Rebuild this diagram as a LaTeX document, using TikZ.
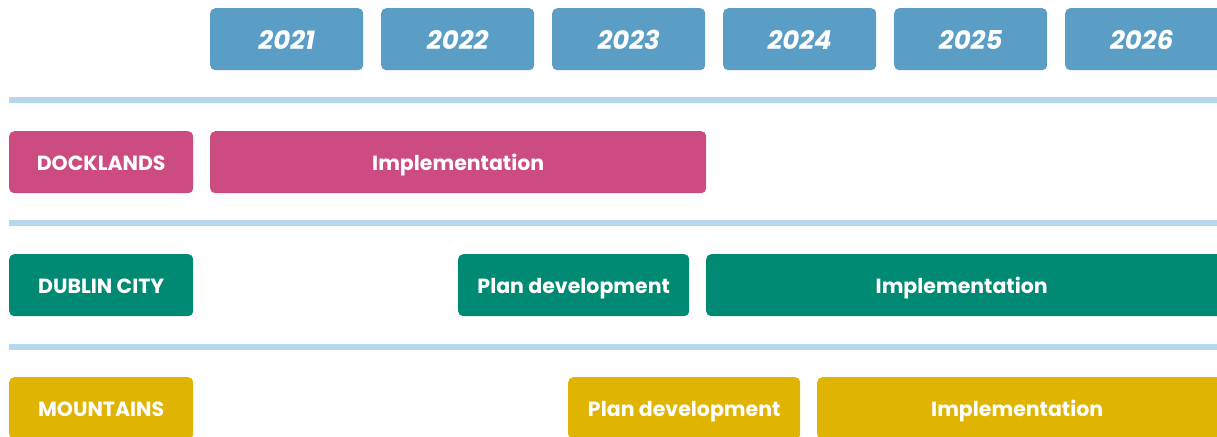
\documentclass[tikz,border=0pt]{standalone}
\usepackage{fontspec}
\setmainfont{Poppins}
\definecolor{yearblue}{HTML}{5A9DC5}
\definecolor{dockpink}{HTML}{CC4B80}
\definecolor{cityteal}{HTML}{018A73}
\definecolor{mtnyellow}{HTML}{E0B402}
\definecolor{sepblue}{HTML}{B6D8EF}
\begin{document}
\begin{tikzpicture}[x=1pt,y=-1pt,
  barbox/.style={rounded corners=5pt, inner sep=0pt, anchor=north west, text=white,
    font=\bfseries\fontsize{20.5}{24}\selectfont, minimum height=62pt,
    text height=17pt, text depth=0pt},
  yearbox/.style={barbox, fill=yearblue, minimum width=153pt,
    font=\bfseries\itshape\fontsize{26}{29}\selectfont, text height=20pt},
  sepline/.style={line width=6pt, draw=sepblue}]
\useasboundingbox (0,0) rectangle (1217,436);
\clip (0,0) rectangle (1217,436);
% years
\node[yearbox] (y2021) at (210,8) {2021};
\node[yearbox] (y2022) at (381,8) {2022};
\node[yearbox] (y2023) at (552,8) {2023};
\node[yearbox] (y2024) at (723,8) {2024};
\node[yearbox] (y2025) at (894,8) {2025};
\node[yearbox, minimum width=160pt] (y2026) at (1065,8) {\hspace*{-7pt}2026};
% separators
\coordinate (s1a) at (9,100);  \coordinate (s1b) at (1222,100);
\coordinate (s2a) at (9,223);  \coordinate (s2b) at (1222,223);
\coordinate (s3a) at (9,347);  \coordinate (s3b) at (1222,347);
\draw[sepline] (s1a) -- (s1b);
\draw[sepline] (s2a) -- (s2b);
\draw[sepline] (s3a) -- (s3b);
% docklands
\node[barbox, fill=dockpink, minimum width=184pt] (dock) at (9,131) {DOCKLANDS};
\node[barbox, fill=dockpink, minimum width=496pt] (dockimp) at (210,131) {Implementation};
% dublin city
\node[barbox, fill=cityteal, minimum width=184pt] (city) at (9,254) {DUBLIN CITY};
\node[barbox, fill=cityteal, minimum width=231pt] (cityplan) at (458,254) {Plan development};
\node[barbox, fill=cityteal, minimum width=518pt] (cityimp) at (706,254) {\hspace*{-7pt}Implementation};
% mountains
\node[barbox, fill=mtnyellow, minimum width=184pt] (mtn) at (9,377) {MOUNTAINS};
\node[barbox, fill=mtnyellow, minimum width=232pt] (mtnplan) at (568,377) {Plan development};
\node[barbox, fill=mtnyellow, minimum width=407pt] (mtnimp) at (817,377) {\hspace*{-7pt}Implementation};
\end{tikzpicture}
\end{document}
